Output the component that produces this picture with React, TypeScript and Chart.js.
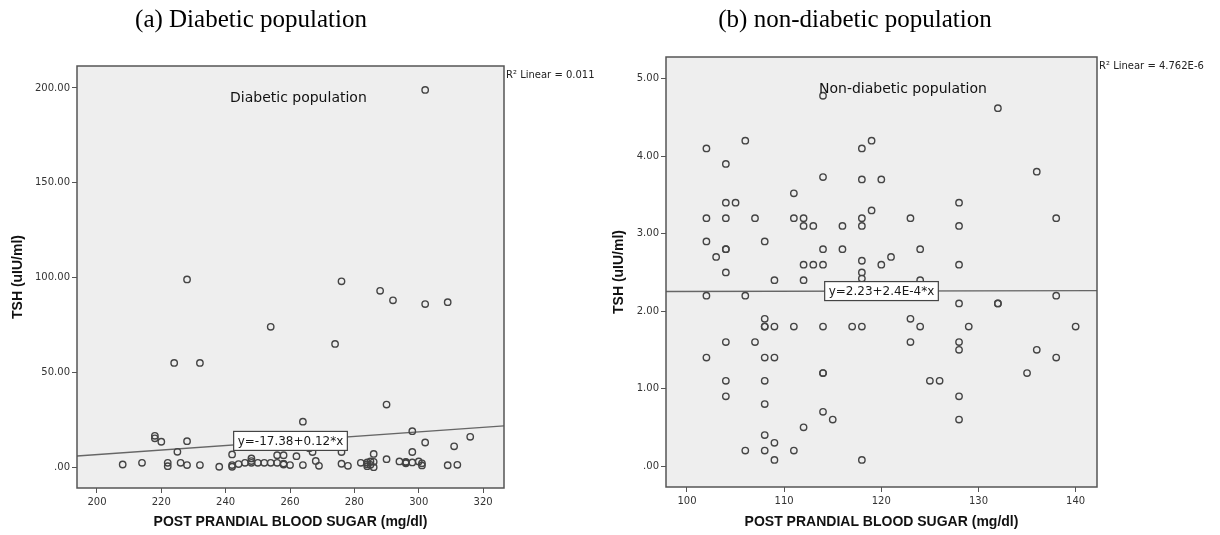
import React, { useEffect, useRef } from "react";
import { Chart, registerables } from "chart.js";

Chart.register(...registerables);

// ---------- Data: (a) Diabetic population ----------
const diabeticSugar = [
  208, 214, 218, 218, 220, 222, 222, 224, 225, 226, 228, 228, 228, 232, 232, 238,
  242, 242, 242, 244, 246, 248, 248, 248, 250, 252, 254, 254, 256, 256, 258, 258,
  258, 260, 262, 264, 264, 266, 267, 268, 269, 274, 276, 276, 276, 278, 282, 284,
  284, 284, 285, 285, 286, 286, 286, 288, 290, 290, 292, 294, 296, 296, 296, 298,
  298, 298, 300, 301, 301, 302, 302, 302, 309, 309, 311, 312, 316,
];
const diabeticTSH = [
  1.4, 2.3, 16.5, 15.2, 13.4, 2.3, 0.5, 55, 8.1, 2.3, 99, 13.7, 1.1, 55, 1.1, 0.2,
  6.7, 1.1, 0.2, 1.6, 2.3, 4.6, 3.2, 2.3, 2.3, 2.3, 74, 2.3, 6.3, 2.3, 6.3, 1.9,
  1.4, 1.1, 5.8, 24, 1.1, 10, 8, 3.3, 0.7, 65, 98, 8, 1.8, 0.7, 2.3, 2.5,
  1.5, 0.5, 1.2, 3.0, 7.0, 2.8, 0, 93, 33, 4.2, 88, 3.0, 2.5, 2.0, 2.8, 19,
  8, 2.5, 3.0, 0.9, 2.0, 199, 86, 13, 87, 1.0, 11, 1.2, 16,
];
const diabeticXTicks = [200, 220, 240, 260, 280, 300, 320];
const diabeticYTicks = [0, 50, 100, 150, 200];
const diabeticIntercept = -17.38;
const diabeticSlope = 0.12;
const diabeticEquation = "y=-17.38+0.12*x";
const diabeticR2 = "R\u00B2 Linear = 0.011";
const diabeticInnerTitle = "Diabetic population";
const diabeticHeading = "(a) Diabetic population";

// ---------- Data: (b) Non-diabetic population ----------
const nonDiabeticSugar = [
  102, 102, 102, 102, 102, 103,
  104, 104, 104, 104, 104, 104, 104, 104, 104, 105,
  106, 106, 106, 107, 107,
  108, 108, 108, 108, 108, 108, 108, 108, 108,
  109, 109, 109, 109, 109,
  111, 111, 111, 111,
  112, 112, 112, 112, 112, 113, 113,
  114, 114, 114, 114, 114, 114, 114, 114, 115, 116, 116, 117,
  118, 118, 118, 118, 118, 118, 118, 118, 118,
  119, 119, 120, 120, 121,
  123, 123, 123, 124, 124, 124, 125, 126,
  128, 128, 128, 128, 128, 128, 128, 128, 129,
  132, 132, 132, 135, 136, 136, 138, 138, 138, 140,
];
const nonDiabeticTSH = [
  4.1, 3.2, 2.9, 2.2, 1.4, 2.7,
  3.9, 3.4, 3.2, 2.8, 2.8, 2.5, 1.6, 1.1, 0.9, 3.4,
  4.2, 2.2, 0.2, 3.2, 1.6,
  2.9, 1.9, 1.8, 1.8, 1.4, 1.1, 0.8, 0.4, 0.2,
  2.4, 1.8, 1.4, 0.3, 0.08,
  3.52, 3.2, 1.8, 0.2,
  3.2, 3.1, 2.6, 2.4, 0.5, 3.1, 2.6,
  4.78, 3.73, 2.8, 2.6, 1.8, 1.2, 1.2, 0.7, 0.6, 3.1, 2.8, 1.8,
  4.1, 3.7, 3.2, 3.1, 2.65, 2.5, 2.42, 1.8, 0.08,
  4.2, 3.3, 3.7, 2.6, 2.7,
  3.2, 1.9, 1.6, 2.8, 2.4, 1.8, 1.1, 1.1,
  3.4, 3.1, 2.6, 2.1, 1.6, 1.5, 0.9, 0.6, 1.8,
  4.62, 2.1, 2.1, 1.2, 3.8, 1.5, 3.2, 2.2, 1.4, 1.8,
];
const nonDiabeticXTicks = [100, 110, 120, 130, 140];
const nonDiabeticYTicks = [0, 1, 2, 3, 4, 5];
const nonDiabeticIntercept = 2.23;
const nonDiabeticSlope = 0.00024;
const nonDiabeticEquation = "y=2.23+2.4E-4*x";
const nonDiabeticR2 = "R\u00B2 Linear = 4.762E-6";
const nonDiabeticInnerTitle = "Non-diabetic population";
const nonDiabeticHeading = "(b) non-diabetic population";

const xAxisTitle = "POST PRANDIAL BLOOD SUGAR (mg/dl)";
const yAxisTitle = "TSH (uIU/ml)";

type PanelSpec = {
  xs: number[];
  ys: number[];
  xMin: number;
  xMax: number;
  yMin: number;
  yMax: number;
  xTicks: number[];
  yTicks: number[];
  intercept: number;
  slope: number;
  equation: string;
  r2: string;
  innerTitle: string;
  yAxisWidth: number;
  padRight: number;
  padTop: number;
  xAxisHeight: number;
  yTitlePad: number;
};

const CANVAS_W = 610;
const CANVAS_H = 535;

function decorPlugin(spec: PanelSpec) {
  return {
    id: "panelDecor",
    beforeDraw(chart: any) {
      const { ctx, chartArea } = chart;
      const { left, top, right, bottom } = chartArea;
      ctx.save();
      ctx.fillStyle = "#eeeeee";
      ctx.fillRect(left, top, right - left, bottom - top);
      ctx.restore();
    },
    afterDatasetsDraw(chart: any) {
      const { ctx, chartArea, scales } = chart;
      const { left, top, right, bottom } = chartArea;
      ctx.save();
      // frame
      ctx.strokeStyle = "#555";
      ctx.lineWidth = 1.5;
      ctx.strokeRect(left, top, right - left, bottom - top);

      // inner title
      ctx.fillStyle = "#111";
      ctx.font = "14px 'DejaVu Sans'";
      ctx.textAlign = "left";
      ctx.textBaseline = "middle";
      ctx.fillText(spec.innerTitle, left + 153, top + 32);

      // R squared
      ctx.font = "10px 'DejaVu Sans'";
      ctx.fillStyle = "#222";
      ctx.fillText(spec.r2, right + 2, top + 9);

      // equation box on the fit line at chart centre
      const cx = (left + right) / 2;
      const xv = scales.x.getValueForPixel(cx);
      const yv = spec.intercept + spec.slope * xv;
      const cy = scales.y.getPixelForValue(yv);
      ctx.font = "12px 'DejaVu Sans'";
      const tw = ctx.measureText(spec.equation).width;
      const bw = tw + 8;
      const bh = 19;
      ctx.fillStyle = "#ffffff";
      ctx.fillRect(cx - bw / 2, cy - bh / 2, bw, bh);
      ctx.strokeStyle = "#444";
      ctx.lineWidth = 1.2;
      ctx.strokeRect(cx - bw / 2, cy - bh / 2, bw, bh);
      ctx.fillStyle = "#1a1a1a";
      ctx.textAlign = "center";
      ctx.fillText(spec.equation, cx, cy + 1);
      ctx.restore();
    },
  };
}

function Panel({ spec, left }: { spec: PanelSpec; left: number }) {
  const ref = useRef<HTMLCanvasElement | null>(null);
  useEffect(() => {
    if (!ref.current) return;
    const points = spec.xs.map((x, i) => ({ x, y: spec.ys[i] }));
    const fit = [spec.xMin, spec.xMax].map((x) => ({
      x,
      y: spec.intercept + spec.slope * x,
    }));
    const tickFont = { family: "'DejaVu Sans'", size: 10 };
    const titleFont = { family: "'Liberation Sans', Arial", size: 14, weight: "bold" as const };
    const chart = new Chart(ref.current, {
      type: "scatter",
      data: {
        datasets: [
          {
            data: points,
            pointRadius: 3.2,
            pointBorderWidth: 1.4,
            borderColor: "#444",
            backgroundColor: "rgba(0,0,0,0)",
            pointBackgroundColor: "rgba(0,0,0,0)",
            pointBorderColor: "#444",
          },
          {
            data: fit,
            showLine: true,
            pointRadius: 0,
            borderColor: "#666",
            borderWidth: 1.3,
          } as any,
        ],
      },
      options: {
        responsive: false,
        animation: false,
        layout: { padding: { left: 0, top: spec.padTop, right: spec.padRight, bottom: 0 } },
        plugins: {
          legend: { display: false },
          tooltip: { enabled: false },
        },
        scales: {
          x: {
            type: "linear",
            min: spec.xMin,
            max: spec.xMax,
            afterBuildTicks: (s: any) => {
              s.ticks = spec.xTicks.map((v) => ({ value: v }));
            },
            afterFit: (s: any) => {
              s.height = spec.xAxisHeight;
            },
            grid: {
              display: true,
              drawOnChartArea: false,
              drawTicks: true,
              tickLength: 5,
              tickColor: "#555",
              tickWidth: 1,
            },
            border: { display: false },
            ticks: {
              font: tickFont,
              color: "#333",
              padding: 3,
              maxRotation: 0,
              autoSkip: false,
              callback: (v: any) => String(v),
            },
            title: {
              display: true,
              text: xAxisTitle,
              font: titleFont,
              color: "#111",
              padding: { top: 0, bottom: 4 },
            },
          },
          y: {
            type: "linear",
            min: spec.yMin,
            max: spec.yMax,
            afterBuildTicks: (s: any) => {
              s.ticks = spec.yTicks.map((v) => ({ value: v }));
            },
            afterFit: (s: any) => {
              s.width = spec.yAxisWidth;
            },
            grid: {
              display: true,
              drawOnChartArea: false,
              drawTicks: true,
              tickLength: 5,
              tickColor: "#555",
              tickWidth: 1,
            },
            border: { display: false },
            ticks: {
              font: tickFont,
              color: "#333",
              padding: 2,
              autoSkip: false,
              callback: (v: any) => (Number(v) === 0 ? ".00" : Number(v).toFixed(2)),
            },
            title: {
              display: true,
              text: yAxisTitle,
              font: titleFont,
              color: "#111",
              padding: { top: spec.yTitlePad, bottom: 0 },
            },
          },
        },
      },
      plugins: [decorPlugin(spec)],
    });
    return () => chart.destroy();
  }, [spec]);
  return (
    <canvas
      ref={ref}
      width={CANVAS_W}
      height={CANVAS_H}
      style={{ position: "absolute", left, top: 0, width: CANVAS_W, height: CANVAS_H }}
    />
  );
}

const diabeticSpec: PanelSpec = {
  xs: diabeticSugar,
  ys: diabeticTSH,
  xMin: 193.8,
  xMax: 326.5,
  yMin: -11,
  yMax: 211.6,
  xTicks: diabeticXTicks,
  yTicks: diabeticYTicks,
  intercept: diabeticIntercept,
  slope: diabeticSlope,
  equation: diabeticEquation,
  r2: diabeticR2,
  innerTitle: diabeticInnerTitle,
  yAxisWidth: 77,
  padRight: 106,
  padTop: 66,
  xAxisHeight: 47,
  yTitlePad: 9.6,
};

const nonDiabeticSpec: PanelSpec = {
  xs: nonDiabeticSugar,
  ys: nonDiabeticTSH,
  xMin: 97.84,
  xMax: 142.2,
  yMin: -0.27,
  yMax: 5.28,
  xTicks: nonDiabeticXTicks,
  yTicks: nonDiabeticYTicks,
  intercept: nonDiabeticIntercept,
  slope: nonDiabeticSlope,
  equation: nonDiabeticEquation,
  r2: nonDiabeticR2,
  innerTitle: nonDiabeticInnerTitle,
  yAxisWidth: 56,
  padRight: 123,
  padTop: 57,
  xAxisHeight: 48,
  yTitlePad: 0.6,
};

const headingStyle: React.CSSProperties = {
  position: "absolute",
  top: 5,
  fontFamily: "'Liberation Serif', 'Times New Roman', serif",
  fontSize: 25,
  lineHeight: "28px",
  color: "#000",
  whiteSpace: "nowrap",
  transform: "translateX(-50%)",
};

export default function App() {
  return (
    <div
      style={{
        position: "absolute",
        left: 0,
        top: 0,
        width: 1220,
        height: 535,
        background: "#fff",
        overflow: "hidden",
      }}
    >
      <Panel spec={diabeticSpec} left={0} />
      <Panel spec={nonDiabeticSpec} left={610} />
      <div style={{ ...headingStyle, left: 251 }}>{diabeticHeading}</div>
      <div style={{ ...headingStyle, left: 855 }}>{nonDiabeticHeading}</div>
    </div>
  );
}
